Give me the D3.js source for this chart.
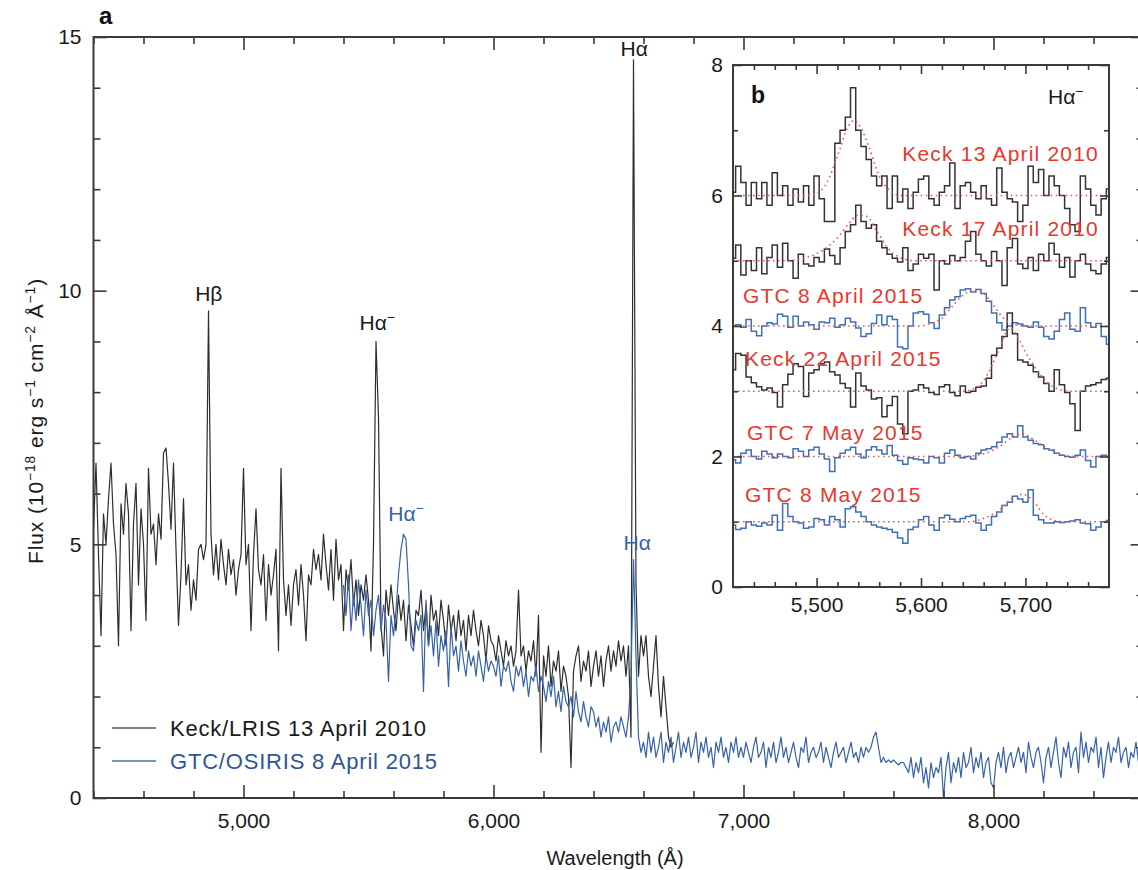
<!DOCTYPE html>
<html><head><meta charset="utf-8">
<script src="https://cdn.jsdelivr.net/npm/d3@7"></script>
<style>html,body{margin:0;padding:0;background:#fff;overflow:hidden} svg{display:block}</style>
</head><body>
<svg id="chart" width="1138" height="870"></svg>
<script>
// ---------------- DATA ----------------
// Panel a: Keck/LRIS 13 April 2010 (flux, 10 Å bins from 4400 Å)
const keckStart = 4400, keckStep = 10;
const keckFlux = [
 5.3,6.6,4.8,3.2,5.6,5.0,5.9,6.6,5.4,4.8,
 3.0,5.8,5.2,6.2,5.6,3.3,5.4,6.2,4.2,5.7,
 5.0,3.5,6.5,5.2,5.4,4.6,5.6,5.1,6.8,6.9,
 6.2,5.3,6.6,4.9,3.4,4.4,5.9,4.2,4.6,3.7,
 4.3,3.9,4.9,5.0,4.7,5.0,9.6,5.2,4.4,5.0,
 4.3,5.1,4.6,4.2,4.9,4.4,4.7,4.0,4.5,4.8,
 6.5,4.6,5.0,3.3,4.8,5.7,4.5,4.2,4.8,3.5,
 4.6,4.0,4.4,4.9,2.9,6.5,4.3,3.6,4.2,3.4,
 4.2,4.5,3.8,4.6,4.0,3.1,4.4,4.2,4.9,4.5,
 4.8,4.3,5.2,4.6,4.1,4.9,3.9,5.1,4.3,4.6,
 3.3,4.5,4.1,4.7,3.8,4.3,3.6,4.2,3.9,4.4,
 3.9,2.9,5.0,9.0,7.5,3.4,2.8,4.1,3.6,4.2,
 3.7,3.3,4.0,3.5,3.9,3.1,3.8,3.4,3.0,3.7,
 3.6,4.1,3.3,3.8,3.0,4.0,3.5,3.7,3.2,3.9,
 3.5,3.0,3.8,3.3,3.6,3.1,3.7,3.2,3.5,2.9,
 3.6,3.2,3.7,3.3,3.0,3.5,3.2,2.7,3.4,3.1,
 3.0,2.7,3.2,2.9,2.6,3.1,2.8,3.0,2.6,2.9,
 4.1,2.8,3.0,2.5,2.9,2.7,3.1,2.4,3.6,0.9,
 2.8,2.4,3.0,2.2,2.7,2.5,2.9,2.1,2.6,2.4,
 2.0,0.6,2.5,2.8,3.0,2.3,2.7,2.5,2.9,2.2,
 2.6,2.9,2.4,2.8,2.2,2.7,3.0,2.5,2.9,2.6,
 3.1,2.7,3.0,2.4,3.0,1.2,14.55,4.2,2.4,3.2,
 2.8,3.2,2.4,2.0,2.6,3.2,2.2,1.6,2.4,1.8,
 1.2,1.0,1.1
];
// Panel a: GTC/OSIRIS 8 April 2015 (flux, 10 Å bins from 5400 Å)
const gtcStart = 5400, gtcStep = 10;
const gtcFlux = [
 4.2,3.6,4.4,3.3,4.0,3.5,4.3,3.8,3.2,4.1,
 3.6,3.9,3.2,3.7,4.0,3.3,3.8,3.5,2.3,3.6,
 3.2,3.7,4.4,4.9,5.2,5.1,4.2,3.0,2.9,3.5,
 3.3,3.6,2.1,3.9,3.0,3.4,2.8,3.5,2.6,3.2,
 2.9,3.3,2.2,3.4,2.8,3.0,2.5,3.1,2.7,2.4,
 2.9,2.6,2.8,2.4,2.9,2.6,2.3,2.8,2.5,2.7,
 2.6,2.4,2.8,2.2,2.6,2.5,2.7,2.3,2.1,2.6,
 2.4,2.6,2.2,2.5,2.0,2.4,2.3,2.6,2.1,2.4,
 2.2,1.9,2.3,2.0,2.4,1.8,2.1,1.7,2.2,1.9,
 1.8,2.0,1.6,2.1,1.7,1.5,1.9,1.6,1.4,1.8,
 1.7,1.4,1.6,1.2,1.5,1.3,1.6,1.1,1.4,1.5,
 1.3,1.6,1.4,1.2,1.6,2.4,4.7,2.8,1.2,0.9,
 1.1,0.8,1.3,0.9,1.2,0.8,1.0,1.3,0.7,1.1,
 0.9,1.2,0.7,1.0,1.3,0.8,1.1,0.9,1.2,0.8,
 1.0,1.3,0.7,1.1,0.9,1.2,0.8,1.0,0.6,1.1,
 0.9,1.2,0.8,1.0,0.7,1.1,0.9,1.2,0.8,1.0,
 0.8,1.1,0.9,0.7,1.0,1.2,0.8,0.9,1.1,0.6,
 1.0,0.8,1.1,0.7,0.9,1.2,0.8,1.0,0.7,0.9,
 1.1,0.8,0.6,1.0,0.9,1.2,0.7,0.9,1.0,0.8,
 0.9,1.1,0.7,1.0,0.8,0.6,0.9,1.1,0.8,0.9,
 1.0,0.7,0.9,1.1,0.8,0.9,0.7,1.0,0.8,1.0,
 0.9,1.0,1.2,1.3,1.0,0.7,0.8,0.7,0.75,0.7,
 0.75,0.7,0.65,0.7,0.7,0.6,0.5,0.8,0.4,0.7,
 0.5,0.8,0.3,0.6,0.2,0.7,0.4,0.6,0.5,0.8,
 0.0,0.6,0.9,0.3,0.7,0.5,0.8,0.4,0.9,0.6,
 0.7,1.0,0.5,0.8,0.6,0.9,0.4,0.7,0.8,0.3,
 0.2,0.7,0.9,0.6,1.0,0.5,0.8,0.9,0.6,0.8,
 1.0,0.7,0.9,0.5,1.1,0.8,0.6,0.9,1.0,0.7,
 0.3,0.8,1.0,0.6,0.9,1.2,0.7,0.4,1.0,0.8,
 1.1,0.6,0.9,1.0,0.5,1.3,0.8,1.1,0.7,1.0,
 0.9,1.2,0.6,1.0,0.4,0.8,1.1,0.7,1.0,0.9,
 1.2,0.7,0.9,1.0,0.6,0.9,0.8,1.1,0.7,1.0,
 0.9
];

// Panel b: offset spectra around Hα⁻ (5 Å bins from 5420 Å)
const insetStart = 5420, insetStep = 5;
const keck13Apr2010 = [6.05,6.45,6.2,5.85,6.2,5.95,6.2,5.85,6.35,6.0, 6.15,5.85,6.1,5.9,6.15,5.85,6.3,5.95,5.6,5.6, 6.8,7.0,7.2,7.65,7.0,6.75,6.55,6.3,6.15,6.3, 5.8,6.3,5.9,6.1,5.8,6.05,6.25,6.3,5.95,5.85, 6.05,6.15,6.5,5.8,6.15,6.2,6.05,5.95,6.15,5.95, 5.85,6.42,6.05,5.95,5.9,5.6,5.85,6.45,6.2,6.4, 6.0,6.3,6.15,6.0,5.8,5.55,5.45,6.3,6.1,5.85, 5.7,5.95,6.1];
const keck17Apr2010 = [5.04,5.24,4.78,5.0,4.85,5.2,4.8,5.05,5.24,4.9, 5.27,5.0,4.73,5.1,4.95,4.92,5.05,4.98,5.18,5.08, 4.95,5.2,5.45,5.55,5.85,5.6,5.5,5.55,5.3,5.2, 5.1,5.04,4.98,5.2,4.85,4.95,5.1,5.04,5.1,4.55, 5.0,4.95,5.08,5.0,5.05,5.3,5.45,5.1,5.0,4.92, 5.14,5.0,4.62,5.2,5.34,4.95,4.88,5.05,4.85,5.1, 5.0,5.27,5.1,4.9,5.05,4.75,5.0,5.1,4.95,4.85, 4.8,4.95,5.05];
const gtc8Apr2015 = [4.0,4.02,3.98,4.1,3.92,3.85,4.0,4.05,4.03,4.18, 4.15,3.98,4.15,4.0,4.06,4.02,3.95,4.06,4.05,4.12, 3.98,4.02,4.12,4.06,3.97,3.84,3.88,4.04,4.17,4.02, 4.15,4.1,3.68,3.65,4.0,4.2,4.22,4.18,4.05,3.96, 4.17,4.28,4.4,4.45,4.55,4.57,4.52,4.56,4.5,4.38, 4.2,4.05,3.94,4.0,4.05,4.03,4.0,3.98,4.06,3.98, 3.84,3.8,3.92,4.1,4.2,3.95,3.92,4.28,4.05,3.98, 4.04,3.84,3.72];
const keck22Apr2015 = [3.33,3.58,3.55,3.22,3.13,3.07,3.02,3.05,2.98,2.76, 3.1,3.26,3.42,3.38,2.92,3.28,3.33,3.42,3.45,3.3, 3.25,3.12,3.05,2.76,3.28,3.08,3.02,2.88,2.9,2.61, 2.78,2.92,2.5,2.35,3.0,3.02,3.1,3.05,2.98,2.95, 3.07,3.1,2.98,2.93,3.08,2.98,3.0,3.06,3.08,3.2, 3.55,3.66,3.84,4.2,3.88,3.48,3.45,3.4,3.3,3.22, 3.12,3.0,3.33,3.1,2.98,2.81,2.4,3.0,3.08,3.1, 3.13,3.18,3.2];
const gtc7May2015 = [1.95,1.9,2.05,2.1,2.0,1.96,2.08,2.04,1.98,2.04, 2.0,1.98,2.12,2.08,2.0,2.1,2.14,2.04,1.96,1.77, 1.98,2.05,2.1,2.14,2.04,1.98,2.1,2.15,2.1,2.04, 2.17,2.02,1.94,1.88,1.98,1.96,1.95,1.9,2.0,1.98, 1.9,2.05,2.1,2.02,1.98,2.0,1.96,2.05,2.1,2.12, 2.15,2.22,2.3,2.35,2.3,2.47,2.3,2.25,2.2,2.18, 2.12,2.1,2.05,2.02,2.0,1.99,2.02,2.1,1.94,1.84, 2.0,2.02,2.0];
const gtc8May2015 = [0.95,0.88,0.9,1.0,0.95,0.93,0.98,0.95,1.1,0.87, 1.28,1.08,1.0,0.98,0.9,0.92,1.05,1.03,0.95,1.08, 1.03,0.92,1.2,1.23,1.15,1.08,1.0,0.95,0.92,0.9, 0.88,0.84,0.75,0.67,0.88,0.92,1.03,1.08,0.95,0.87, 1.06,1.1,1.04,1.0,1.05,1.08,1.1,0.98,0.87,0.95, 1.08,1.15,1.25,1.3,1.39,1.35,1.3,1.49,1.1,1.03, 0.98,0.98,1.0,0.99,1.0,1.01,1.03,0.98,0.97,0.87, 0.92,1.0,1.02];

// Fitted profiles: wavelengths and values
const fitK13W = [5420,5490,5500,5510,5520,5530,5536,5542,5550,5560,5570,5580,5780];
const fitK13V = [6.0,6.0,6.03,6.2,6.6,7.05,7.15,7.05,6.75,6.3,6.08,6.0,6.0];
const fitK17W = [5420,5470,5490,5505,5520,5530,5540,5548,5558,5568,5580,5595,5780];
const fitK17V = [5.0,5.0,5.05,5.15,5.35,5.55,5.7,5.68,5.45,5.2,5.05,5.0,5.0];
const fitG8AW = [5420,5595,5610,5620,5630,5640,5650,5660,5670,5680,5690,5700,5780];
const fitG8AV = [4.0,4.0,4.04,4.12,4.3,4.47,4.55,4.5,4.3,4.1,4.02,4.0,4.0];
const fitK22W = [5420,5640,5655,5665,5675,5685,5692,5700,5710,5720,5732,5745,5780];
const fitK22V = [3.0,3.0,3.08,3.3,3.65,3.97,3.85,3.6,3.35,3.15,3.03,3.0,3.0];
const fitG7MW = [5420,5640,5660,5675,5688,5697,5707,5720,5735,5745,5780];
const fitG7MV = [2.0,2.0,2.04,2.15,2.3,2.35,2.27,2.13,2.03,2.0,2.0];
const fitG8MW = [5420,5645,5660,5675,5688,5697,5707,5717,5728,5740,5780];
const fitG8MV = [1.0,1.0,1.05,1.18,1.37,1.42,1.33,1.12,1.02,1.0,1.0];

const insetLabels = ["Keck 13 April 2010","Keck 17 April 2010","GTC 8 April 2015","Keck 22 April 2015","GTC 7 May 2015","GTC 8 May 2015"];
const legendLabels = ["Keck/LRIS 13 April 2010","GTC/OSIRIS 8 April 2015"];

// Axis ticks
const mainXMajor = [5000,6000,7000,8000];
const mainXMinor = [4400,4600,4800,5200,5400,5600,5800,6200,6400,6600,6800,7200,7400,7600,7800,8200,8400];
const mainYMajor = [0,5,10,15];
const mainYMinor = [1,2,3,4,6,7,8,9,11,12,13,14];
const insetXMajor = [5500,5600,5700];
const insetXMinor = [5440,5460,5480,5520,5540,5560,5580,5620,5640,5660,5680,5720,5740,5760];
const insetYMajor = [0,2,4,6,8];
const insetYMinor = [1,3,5,7];

// ---------------- DRAW ----------------
const FONT = "'Liberation Sans', Arial, Helvetica, sans-serif";
const svg = d3.select("#chart").style("font-family", FONT);
const AXC = "#3a3a3a";

const x = d3.scaleLinear().domain([4400, 8600]).range([93.5, 1143.5]);
const y = d3.scaleLinear().domain([0, 15]).range([798, 37]);

function toPts(start, step, arr){ return arr.map((v,i)=>[start+i*step, v]); }

const mainLine = d3.line().x(d=>x(d[0])).y(d=>y(d[1])).curve(d3.curveLinear);
const gMain = svg.append("g");
gMain.append("path").datum(toPts(keckStart,keckStep,keckFlux))
  .attr("d", mainLine).attr("fill","none").attr("stroke","#2e2e2e").attr("stroke-width",1.2).attr("stroke-linejoin","round");
gMain.append("path").datum(toPts(gtcStart,gtcStep,gtcFlux))
  .attr("d", mainLine).attr("fill","none").attr("stroke","#3762aa").attr("stroke-width",1.2).attr("stroke-linejoin","round");

function styleAxis(g, fs){
  g.select(".domain").remove();
  g.selectAll(".tick line").attr("stroke", AXC).attr("stroke-width", 1.6);
  g.selectAll(".tick text").attr("fill","#1a1a1a").style("font-size", fs+"px").style("font-family", FONT);
}
function frame(sc, sy, majX, minX, majY, minY, tMaj, tMin, fs, padX, padY, fmtX){
  const [x0,x1] = sc.range(), [y0,y1] = sy.range();
  const g = svg.append("g");
  styleAxis(g.append("g").attr("transform",`translate(0,${y0})`).call(d3.axisBottom(sc).tickValues(minX).tickSize(-tMin).tickFormat("")), fs);
  styleAxis(g.append("g").attr("transform",`translate(0,${y0})`).call(d3.axisBottom(sc).tickValues(majX).tickSize(-tMaj).tickPadding(padX).tickFormat(fmtX)), fs);
  styleAxis(g.append("g").attr("transform",`translate(0,${y1})`).call(d3.axisTop(sc).tickValues(minX).tickSize(-tMin).tickFormat("")), fs);
  styleAxis(g.append("g").attr("transform",`translate(0,${y1})`).call(d3.axisTop(sc).tickValues(majX).tickSize(-tMaj).tickFormat("")), fs);
  styleAxis(g.append("g").attr("transform",`translate(${x0},0)`).call(d3.axisLeft(sy).tickValues(minY).tickSize(-tMin).tickFormat("")), fs);
  styleAxis(g.append("g").attr("transform",`translate(${x0},0)`).call(d3.axisLeft(sy).tickValues(majY).tickSize(-tMaj).tickPadding(padY).tickFormat(d3.format("d"))), fs);
  styleAxis(g.append("g").attr("transform",`translate(${x1},0)`).call(d3.axisRight(sy).tickValues(minY).tickSize(-tMin).tickFormat("")), fs);
  styleAxis(g.append("g").attr("transform",`translate(${x1},0)`).call(d3.axisRight(sy).tickValues(majY).tickSize(-tMaj).tickFormat("")), fs);
  g.append("rect").attr("x",x0).attr("y",y1).attr("width",x1-x0).attr("height",y0-y1)
    .attr("fill","none").attr("stroke",AXC).attr("stroke-width",2);
  return g;
}
frame(x, y, mainXMajor, mainXMinor, mainYMajor, mainYMinor, 13, 7, 21, 15, 12, d3.format(","));

function richText(parent, parts, attrs, fs){
  const t = parent.append("text");
  Object.entries(attrs).forEach(([k,v])=>t.attr(k,v));
  t.style("font-size", fs+"px");
  let shifted = false;
  parts.forEach(p=>{
    const s = t.append("tspan").text(p.t);
    if(p.sup){ s.style("font-size", (fs*0.66)+"px"); s.attr("dy", shifted? 0 : -fs*0.38); shifted = true; }
    else if(shifted){ s.attr("dy", fs*0.38); shifted = false; }
  });
  return t;
}

// axis titles
svg.append("text").attr("x", 615).attr("y", 865).attr("text-anchor","middle")
  .style("font-size","20px").attr("fill","#1a1a1a").text("Wavelength (Å)");
const yl = svg.append("g").attr("transform","translate(43,421) rotate(-90)");
richText(yl, [{t:"Flux (10"},{t:"−18",sup:true},{t:" erg s"},{t:"−1",sup:true},{t:" cm"},{t:"−2",sup:true},{t:" Å"},{t:"−1",sup:true},{t:")"}],
  {"text-anchor":"middle", fill:"#1a1a1a"}, 21).style("letter-spacing","0.9px");

svg.append("text").attr("x",99).attr("y",24).style("font-size","24px").style("font-weight","bold").attr("fill","#111").text("a");

function lineLabel(lam, val, dyPx, txt, minus, color){
  const px = x(lam), py = y(val) - dyPx;
  const parts = minus ? [{t:txt},{t:"−",sup:true}] : [{t:txt}];
  return richText(svg, parts, {x: px, y: py, "text-anchor":"middle", fill: color}, 21);
}
lineLabel(4861, 9.6, 10, "Hβ", false, "#1a1a1a");
lineLabel(5535, 9.0, 11, "Hα", true, "#1a1a1a");
lineLabel(5650, 5.2, 13, "Hα", true, "#3762aa");
lineLabel(6563, 14.55, 4, "Hα", false, "#1a1a1a");
lineLabel(6575, 4.7, 10, "Hα", false, "#3762aa");

// legend
const leg = svg.append("g");
[["#555","#1a1a1a"],["#4a6fb0","#2f5597"]].forEach((d,i)=>{
  const yy = 728 + i*33;
  leg.append("line").attr("x1",112).attr("x2",156).attr("y1",yy).attr("y2",yy).attr("stroke",d[0]).attr("stroke-width",1.6);
  leg.append("text").attr("x",170).attr("y",yy+8).style("font-size","22px").style("letter-spacing","0.8px").attr("fill",d[1]).text(legendLabels[i]);
});

// ---------------- INSET ----------------
const xi = d3.scaleLinear().domain([5420, 5780]).range([733, 1109]);
const yi = d3.scaleLinear().domain([0, 8]).range([587, 65]);
svg.append("rect").attr("x",733).attr("y",65).attr("width",376).attr("height",522).attr("fill","#fff");
svg.append("clipPath").attr("id","inclip").append("rect").attr("x",733).attr("y",65).attr("width",376).attr("height",522);
const gIn = svg.append("g").attr("clip-path","url(#inclip)");
const inLine = d3.line().x(d=>xi(d[0])).y(d=>yi(d[1])).curve(d3.curveStep);
const fitLine = d3.line().x((d)=>xi(d[0])).y(d=>yi(d[1])).curve(d3.curveMonotoneX);
const insetSeries = [
  [keck13Apr2010, "#333", fitK13W, fitK13V],
  [keck17Apr2010, "#333", fitK17W, fitK17V],
  [gtc8Apr2015, "#3f6fba", fitG8AW, fitG8AV],
  [keck22Apr2015, "#333", fitK22W, fitK22V],
  [gtc7May2015, "#3f6fba", fitG7MW, fitG7MV],
  [gtc8May2015, "#3f6fba", fitG8MW, fitG8MV]
];
insetSeries.forEach(s=>{
  gIn.append("path").datum(toPts(insetStart, insetStep, s[0])).attr("d", inLine)
    .attr("fill","none").attr("stroke", s[1]).attr("stroke-width",1.5);
});
insetSeries.forEach(s=>{
  gIn.append("path").datum(s[2].map((w,i)=>[w, s[3][i]])).attr("d", fitLine)
    .attr("fill","none").attr("stroke","#ee5a4e").attr("stroke-width",1.6).attr("stroke-dasharray","1.6,3.4");
});
frame(xi, yi, insetXMajor, insetXMinor, insetYMajor, insetYMinor, 9, 5, 21, 10, 10, d3.format(","));

const RED = "#e8382d";
const labelPos = [[1099,161,"end"],[1099,236,"end"],[743,303,"start"],[745,366,"start"],[747,440,"start"],[745,502,"start"]];
insetLabels.forEach((t,i)=>{
  svg.append("text").attr("x",labelPos[i][0]).attr("y",labelPos[i][1]).attr("text-anchor",labelPos[i][2])
    .style("font-size","21px").style("letter-spacing","1.2px").attr("fill",RED).text(t);
});
svg.append("text").attr("x",751).attr("y",103).style("font-size","23px").style("font-weight","bold").attr("fill","#111").text("b");
richText(svg, [{t:"Hα"},{t:"−",sup:true}], {x:1048, y:104, fill:"#1a1a1a"}, 21);
</script></body></html>
